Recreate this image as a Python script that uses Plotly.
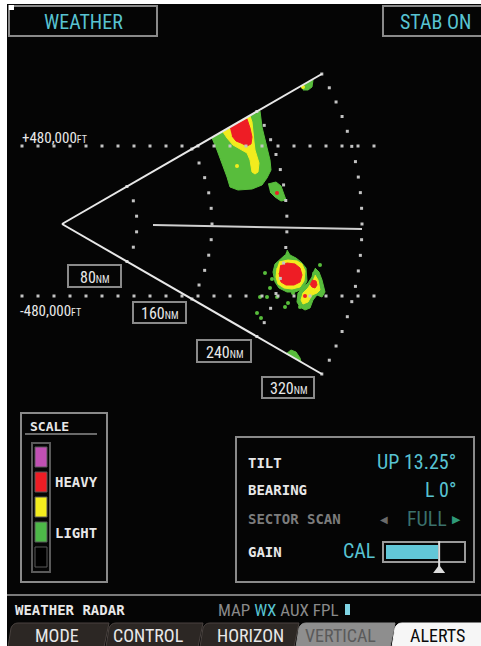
import numpy as np
import plotly.graph_objects as go

# --- datos de la pantalla ---
RANGE_RINGS_NM = [80, 160, 240, 320]
RING_LABELS = ["80", "160", "240", "320"]
ALT_LABELS = ["+480,000", "-480,000"]
SCALE_COLORS = ["#c150b4", "#ee1d25", "#f4ee1e", "#4db848", "#000000"]
SCALE_TEXT = ["HEAVY", "LIGHT"]
TILT_DEG = 13.25
BEARING_DEG = 0
GAIN_LEVEL = 0.66
TAB_LABELS = ["MODE", "CONTROL", "HORIZON", "VERTICAL", "ALERTS"]

# celdas de tormenta (contornos en px de pantalla)
UPPER_GREEN_X = [212, 260, 262, 267, 270, 271, 267, 262, 252, 238, 230, 227, 222, 217, 212]
UPPER_GREEN_Y = [138, 111, 127, 147, 160, 170, 178, 185, 189, 190, 187, 177, 163, 150, 138]
UPPER_YELLOW_X = [223, 227, 233, 242, 247, 250, 251, 252, 255, 258, 259, 257, 255, 254, 253, 252, 250]
UPPER_YELLOW_Y = [132, 138, 145, 150, 153, 160, 167, 172, 174, 172, 163, 157, 150, 142, 132, 122, 116]
UPPER_RED_X = [230, 247, 250, 252, 251, 247, 241, 236, 232]
UPPER_RED_Y = [128, 119, 128, 137, 144, 146, 143, 141, 136]
SMALL_GREEN_X = [268, 276, 281, 284, 286, 281, 275, 270]
SMALL_GREEN_Y = [184, 182, 186, 194, 200, 201, 197, 192]
TOP_GREEN_X = [301, 313, 312, 308, 303]
TOP_GREEN_Y = [87, 80, 87, 90, 90]
EDGE_GREEN_X = [286, 291, 296, 300, 301]
EDGE_GREEN_Y = [354, 350, 352, 358, 362]

CELL_A_GREEN_X = [287, 290, 296, 301, 306, 307, 303, 295, 287, 279, 275, 273, 275, 280, 285]
CELL_A_GREEN_Y = [250, 255, 258, 262, 268, 281, 289, 292, 292, 288, 282, 272, 264, 259, 255]
CELL_A_YELLOW_X = [279, 288, 297, 302, 305, 304, 300, 292, 284, 278, 276, 277]
CELL_A_YELLOW_Y = [262, 260, 261, 264, 271, 281, 287, 289, 288, 284, 277, 268]
CELL_A_RED_X = [280, 287, 295, 300, 302, 300, 294, 286, 281, 279]
CELL_A_RED_Y = [266, 263, 264, 268, 275, 282, 285, 285, 282, 273]

CELL_B_GREEN_X = [315, 319, 322, 325, 322, 317, 313, 310, 305, 300, 297, 298, 303, 308, 312, 313]
CELL_B_GREEN_Y = [268, 272, 280, 292, 297, 295, 300, 308, 310, 307, 302, 293, 288, 283, 277, 272]
CELL_B_YELLOW_X = [315, 318, 320, 317, 312, 308, 303, 301, 303, 308, 312]
CELL_B_YELLOW_Y = [275, 280, 290, 293, 295, 302, 304, 300, 293, 288, 282]
CELL_B_RED_X = [312, 316, 317, 315, 312, 310]
CELL_B_RED_Y = [280, 281, 285, 288, 287, 284]

SPECK_GREEN_X = [265, 270, 260, 267, 277, 285, 288, 257, 293, 320, 272, 261, 300]
SPECK_GREEN_Y = [273, 288, 297, 297, 297, 307, 303, 313, 293, 265, 279, 318, 307]
SPECK_YELLOW_X = [237, 303]
SPECK_YELLOW_Y = [166, 87]
SPECK_RED_X = [277, 305]
SPECK_RED_Y = [193, 296]

# --- geometría / estilos ---
W, H = 481, 646
APEX = (62, 224)
PX_PER_NM = 300 / 320
HALF_ANG = np.radians(30)
CYAN = "#58c3d2"
GRIS = "#8a8a8a"
BLANCO = "#e8e8e8"
NARROW = "Roboto Condensed, Roboto, sans-serif"
MONO = "DejaVu Sans Mono, Liberation Mono, monospace"
GREEN, YELLOW, RED = "#58bd3c", "#f2ec1e", "#ee1d25"

fig = go.Figure()
shapes = []
annots = []


def rect(x0, y0, x1, y1, fill="rgba(0,0,0,0)", line=GRIS, width=2):
    shapes.append(dict(type="rect", x0=x0, y0=y0, x1=x1, y1=y1, xref="x", yref="y",
                       fillcolor=fill, line=dict(color=line, width=width), layer="below"))


def texto(x, y, t, size, color=BLANCO, family=NARROW, anchor="left", weight="normal"):
    annots.append(dict(x=x, y=y, text=t, xref="x", yref="y", showarrow=False,
                       xanchor=anchor, yanchor="middle",
                       font=dict(size=size, color=color, family=family, weight=weight)))


# fondo negro
rect(7, 4, W + 2, H + 2, fill="#050505", line="#050505", width=0)

# cajas superiores
shapes.append(dict(type="rect", x0=9, y0=5, x1=14, y1=10, xref="x", yref="y",
                   fillcolor="#ffffff", line=dict(width=0)))
rect(9, 6, 157, 36)
texto(83, 22, "WEATHER", 20, CYAN, anchor="center")
rect(383, 6, 490, 36)
texto(435, 22, "STAB ON", 20, CYAN, anchor="center")

# storm cells
celdas = [
    (UPPER_GREEN_X, UPPER_GREEN_Y, GREEN), (UPPER_YELLOW_X, UPPER_YELLOW_Y, YELLOW),
    (UPPER_RED_X, UPPER_RED_Y, RED), (SMALL_GREEN_X, SMALL_GREEN_Y, GREEN),
    (TOP_GREEN_X, TOP_GREEN_Y, GREEN), (EDGE_GREEN_X, EDGE_GREEN_Y, GREEN),
    (CELL_A_GREEN_X, CELL_A_GREEN_Y, GREEN), (CELL_A_YELLOW_X, CELL_A_YELLOW_Y, YELLOW),
    (CELL_A_RED_X, CELL_A_RED_Y, RED),
    (CELL_B_GREEN_X, CELL_B_GREEN_Y, GREEN), (CELL_B_YELLOW_X, CELL_B_YELLOW_Y, YELLOW),
    (CELL_B_RED_X, CELL_B_RED_Y, RED),
]
for cx, cy, col in celdas:
    fig.add_trace(go.Scatter(x=cx, y=cy, fill="toself", fillcolor=col, mode="lines",
                             line=dict(width=1, color=col), hoverinfo="skip"))
for sx, sy, col, sz in [(SPECK_GREEN_X, SPECK_GREEN_Y, GREEN, 4),
                        (SPECK_YELLOW_X, SPECK_YELLOW_Y, YELLOW, 4),
                        (SPECK_RED_X, SPECK_RED_Y, RED, 4)]:
    fig.add_trace(go.Scatter(x=sx, y=sy, mode="markers", hoverinfo="skip",
                             marker=dict(size=sz, color=col, line=dict(width=0))))

# anillos de distancia punteados
dot_x, dot_y = [], []
for r_nm in RANGE_RINGS_NM:
    R = r_nm * PX_PER_NM
    n = int(round(R * 2 * HALF_ANG / 16))
    th = np.linspace(-HALF_ANG, HALF_ANG, n + 1)
    dot_x += list(APEX[0] + R * np.cos(th))
    dot_y += list(APEX[1] + R * np.sin(th))
# líneas de altitud punteadas
for y_alt in [146, 296]:
    xs = np.arange(22, 378, 16)
    dot_x += list(xs)
    dot_y += [y_alt] * len(xs)
fig.add_trace(go.Scatter(x=dot_x, y=dot_y, mode="markers", hoverinfo="skip",
                         marker=dict(symbol="square", size=3, color="#c4c4c4", line=dict(width=0))))

# bordes del sector y línea central
R_max = RANGE_RINGS_NM[-1] * PX_PER_NM
for s in (-1, 1):
    shapes.append(dict(type="line", x0=APEX[0], y0=APEX[1],
                       x1=APEX[0] + R_max * np.cos(HALF_ANG), y1=APEX[1] + s * R_max * np.sin(HALF_ANG),
                       xref="x", yref="y", line=dict(color=BLANCO, width=2)))
shapes.append(dict(type="line", x0=153, y0=225, x1=362, y1=229, xref="x", yref="y",
                   line=dict(color="#d0d0d0", width=2)))

# etiquetas de altitud
texto(20, 138, ALT_LABELS[0] + "<span style='font-size:10px'>FT</span>", 15)
texto(18, 311, ALT_LABELS[1] + "<span style='font-size:10px'>FT</span>", 15)

# cajas de rango
cajas = [(68, 265, 121, 287), (133, 302, 186, 323), (197, 340, 251, 362), (262, 377, 314, 398)]
for (x0, y0, x1, y1), lab in zip(cajas, RING_LABELS):
    rect(x0, y0, x1, y1, fill="#050505")
    texto((x0 + x1) / 2, (y0 + y1) / 2 + 1, lab + "<span style='font-size:10px'>NM</span>", 16,
          anchor="center")

# escala
rect(21, 413, 107, 582)
texto(28, 426, "SCALE", 13, family=MONO, weight="bold")
shapes.append(dict(type="line", x0=25, y0=434, x1=97, y1=434, xref="x", yref="y",
                   line=dict(color="#6a6a6a", width=2)))
rect(32, 443, 50, 572, fill="#050505", line="#5a5a5a", width=2)
for i, col in enumerate(SCALE_COLORS):
    y0 = 447 + i * 25
    rect(35, y0, 47, y0 + 20, fill=col, line="#5a5a5a", width=1)
texto(53, 482, SCALE_TEXT[0], 14, family=MONO, weight="bold")
texto(53, 533, SCALE_TEXT[1], 14, family=MONO, weight="bold")

# panel de control
rect(236, 437, 474, 582)
texto(246, 463, "TILT", 14, family=MONO, weight="bold")
texto(246, 490, "BEARING", 14, family=MONO, weight="bold")
texto(246, 519, "SECTOR SCAN", 14, color="#7c7c7c", family=MONO, weight="bold")
texto(246, 552, "GAIN", 14, family=MONO, weight="bold")
texto(458, 462, f"UP {TILT_DEG:.2f}°", 20, CYAN, anchor="right")
texto(458, 490, f"L {BEARING_DEG}°", 20, CYAN, anchor="right")
texto(384, 519, "◀", 10, "#6a6a6a", anchor="center")
texto(449, 519, "FULL", 20, "#3b716c", anchor="right")
texto(456, 519, "▶", 11, "#2f9a78", anchor="center")
texto(377, 551, "CAL", 20, CYAN, anchor="right")
rect(383, 542, 465, 562, fill="#050505", line="#9a9a9a", width=2)
x_gain = 386 + GAIN_LEVEL * 79
rect(386, 545, x_gain, 559, fill="#62c7d8", line="#62c7d8", width=0)
shapes.append(dict(type="line", x0=x_gain + 1, y0=541, x1=x_gain + 1, y1=570, xref="x", yref="y",
                   line=dict(color="#dcdcdc", width=2)))
shapes.append(dict(type="path", path=f"M {x_gain - 5},573 L {x_gain + 7},573 L {x_gain + 1},565 Z",
                   xref="x", yref="y", fillcolor="#dcdcdc", line=dict(width=0)))

# barra de estado
shapes.append(dict(type="line", x0=7, y0=595, x1=W, y1=595, xref="x", yref="y",
                   line=dict(color="#7a7a7a", width=2)))
texto(13, 610, "WEATHER RADAR", 14, family=MONO, weight="bold")
texto(216, 610, "MAP <span style='color:%s'>WX</span> AUX FPL" % CYAN, 17, "#8a8a8a")
rect(345, 604, 350, 615, fill="#7fd4e4", line="#7fd4e4", width=0)

# pestañas
bordes = [7, 105, 199, 295, 391, 490]
fondos = ["#2c2724", "#2c2724", "#2c2724", "#8e8e8e", "#f6f6f6"]
letras = [BLANCO, BLANCO, BLANCO, "#5a5a5a", "#0a0a0a"]
centros = [57, 148, 250, 340, 437]
for i, lab in enumerate(TAB_LABELS):
    xl, xr = bordes[i], bordes[i + 1]
    path = f"M {xl + 1},647 L {xl + 4},628 Q {xl + 6},623 {xl + 11},623 L {xr + 4},623 L {xr - 1},647 Z"
    shapes.append(dict(type="path", path=path, xref="x", yref="y", fillcolor=fondos[i],
                       line=dict(color="#4a4340" if i < 3 else fondos[i], width=1)))
    texto(centros[i], 635, lab, 18, letras[i], anchor="center")

fig.update_layout(
    width=W, height=H,
    margin=dict(l=0, r=0, t=0, b=0),
    paper_bgcolor="#ffffff",
    plot_bgcolor="rgba(0,0,0,0)",
    showlegend=False,
    xaxis=dict(range=[0, W], visible=False, fixedrange=True),
    yaxis=dict(range=[H, 0], visible=False, fixedrange=True),
    shapes=shapes,
    annotations=annots,
)

fig.write_html("out.html", config={"displayModeBar": False},
               post_script="document.body.style.margin='0px';")
